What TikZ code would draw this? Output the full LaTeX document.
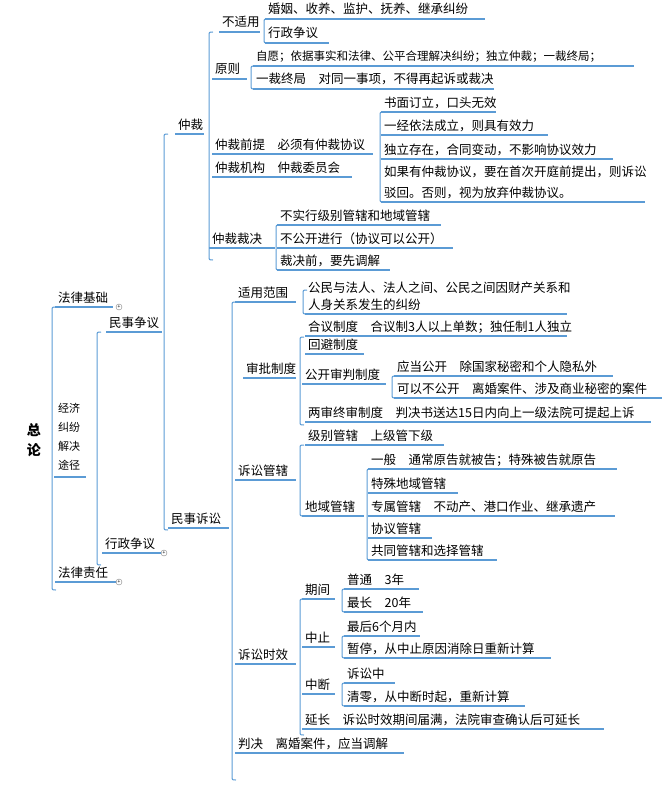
\documentclass[tikz,border=0pt]{standalone}
\usepackage{fontspec}
\setmainfont{Noto Sans CJK SC}
\definecolor{lb}{RGB}{91,155,213}
\begin{document}
\begin{tikzpicture}[x=1pt,y=1pt,
  ul/.style={lb,line width=2pt},
  br/.style={lb,line width=1pt},
  txt/.style={inner sep=0pt,font=\fontsize{12.5}{14}\selectfont,anchor=base west},
  plus/.style={circle,draw=gray,fill=white,inner sep=0pt,minimum size=6pt,font=\fontsize{5}{5}\selectfont}]
\useasboundingbox (0,0) rectangle (670,-789);
\newcommand{\itm}[5]{\draw[ul] (#2,-#4) -- (#3,-#4); \node[txt] (#1) at (#2+3,-#4+5) {#5};}
\newcommand{\brk}[3]{\draw[br] (#1+4,-#2) .. controls (#1,-#2) .. (#1,-#2-4) -- (#1,-#3+4) .. controls (#1,-#3) .. (#1+4,-#3);}
% root
\node[inner sep=0pt,font=\bfseries\fontsize{14}{16}\selectfont,align=center] (root) at (34,-440) {总\\[4pt]论};
\brk{52}{307}{590}
\itm{flj}{55}{113}{307}{法律基础}
\node[plus] (p1) at (119,-307) {+};
\node[inner sep=0pt,font=\fontsize{11}{19}\selectfont,align=left,anchor=north west] (jj) at (58,-403) {经济\\纠纷\\解决\\途径};
\draw[ul] (54,-477) -- (86,-477);
\itm{flzr}{55}{117}{582}{法律责任}
\node[plus] (p3) at (119,-582) {+};
\brk{97}{332}{565}
\itm{mszy}{106}{162}{332}{民事争议}
\itm{xzzy}{102}{162}{553}{行政争议}
\node[plus] (p2) at (164,-553) {+};
\brk{164}{134}{530}
\itm{zc}{175}{204}{134}{仲裁}
\itm{mss}{168}{229}{528}{民事诉讼}
% arbitration
\brk{209}{32}{260}
\itm{bsy}{219}{260}{32}{不适用}
\brk{264}{19}{43}
\itm{a1}{265}{485}{19}{婚姻、收养、监护、抚养、继承纠纷}
\itm{a2}{265}{329}{43}{行政争议}
\itm{yz}{212}{247}{79}{原则}
\brk{251}{66}{89}
\itm{b1}{253}{634}{66}{\fontsize{11.5}{13}\selectfont 自愿；依据事实和法律、公平合理解决纠纷；独立仲裁；一裁终局；}
\itm{b2}{253}{494}{89}{一裁终局\quad 对同一事项，不得再起诉或裁决}
\itm{zcqt}{212}{373}{154}{仲裁前提\quad 必须有仲裁协议}
\brk{380}{112}{202}
\itm{c1}{381}{496}{112}{书面订立，口头无效}
\itm{c2}{381}{548}{135}{一经依法成立，则具有效力}
\itm{c3}{381}{613}{159}{独立存在，合同变动，不影响协议效力}
\itm{c4}{381}{645}{202}{驳回。否则，视为放弃仲裁协议。}
\node[txt] (c4a) at (384,-176) {如果有仲裁协议，要在首次开庭前提出，则诉讼};
\itm{zcjg}{212}{352}{177}{仲裁机构\quad 仲裁委员会}
\itm{zccj}{209}{275}{248}{仲裁裁决}
\brk{276}{225}{270}
\itm{d1}{277}{441}{225}{不实行级别管辖和地域管辖}
\itm{d2}{277}{453}{248}{不公开进行（协议可以公开）}
\itm{d3}{277}{390}{270}{裁决前，要先调解}
% civil litigation
\brk{232}{302}{780}
\itm{syfw}{235}{296}{302}{适用范围}
\brk{303}{290}{314}
\itm{e1}{305}{567}{314}{人身关系发生的纠纷}
\node[txt] (e1a) at (308,-292) {公民与法人、法人之间、公民之间因财产关系和};
\itm{spzd}{243}{296}{378}{审批制度}
\brk{300}{337}{425}
\itm{f1}{305}{567}{336}{合议制度\quad 合议制3人以上单数；独任制1人独立}
\itm{f2}{305}{364}{354}{回避制度}
\itm{f3}{302}{386}{384}{公开审判制度}
\brk{392}{376}{398}
\itm{g1}{394}{613}{376}{应当公开\quad 除国家秘密和个人隐私外}
\itm{g2}{394}{662}{398}{可以不公开\quad 离婚案件、涉及商业秘密的案件}
\itm{f4}{305}{651}{422}{两审终审制度\quad 判决书送达15日内向上一级法院可提起上诉}
\itm{ssgx}{235}{296}{480}{诉讼管辖}
\brk{300}{445}{516}
\itm{h1}{305}{444}{445}{级别管辖\quad 上级管下级}
\itm{h2}{302}{364}{516}{地域管辖}
\brk{367}{469}{560}
\itm{i1}{368}{617}{469}{一般\quad 通常原告就被告；特殊被告就原告}
\itm{i2}{368}{458}{493}{特殊地域管辖}
\itm{i3}{368}{615}{516}{专属管辖\quad 不动产、港口作业、继承遗产}
\itm{i4}{368}{432}{538}{协议管辖}
\itm{i5}{368}{497}{560}{共同管辖和选择管辖}
\itm{sssx}{235}{296}{664}{诉讼时效}
\brk{300}{599}{735}
\itm{qj}{302}{335}{599}{期间}
\brk{342}{589}{612}
\itm{j1}{344}{419}{589}{普通\quad 3年}
\itm{j2}{344}{423}{612}{最长\quad 20年}
\itm{zz}{302}{335}{647}{中止}
\brk{342}{636}{658}
\itm{k1}{344}{420}{636}{最后6个月内}
\itm{k2}{344}{551}{658}{暂停，从中止原因消除日重新计算}
\itm{zd}{302}{335}{694}{中断}
\brk{342}{683}{706}
\itm{l1}{344}{395}{683}{诉讼中}
\itm{l2}{344}{525}{706}{清零，从中断时起，重新计算}
\itm{yc}{302}{604}{729}{延长\quad 诉讼时效期间届满，法院审查确认后可延长}
\itm{pj}{235}{404}{753}{判决\quad 离婚案件，应当调解}
\end{tikzpicture}
\end{document}
